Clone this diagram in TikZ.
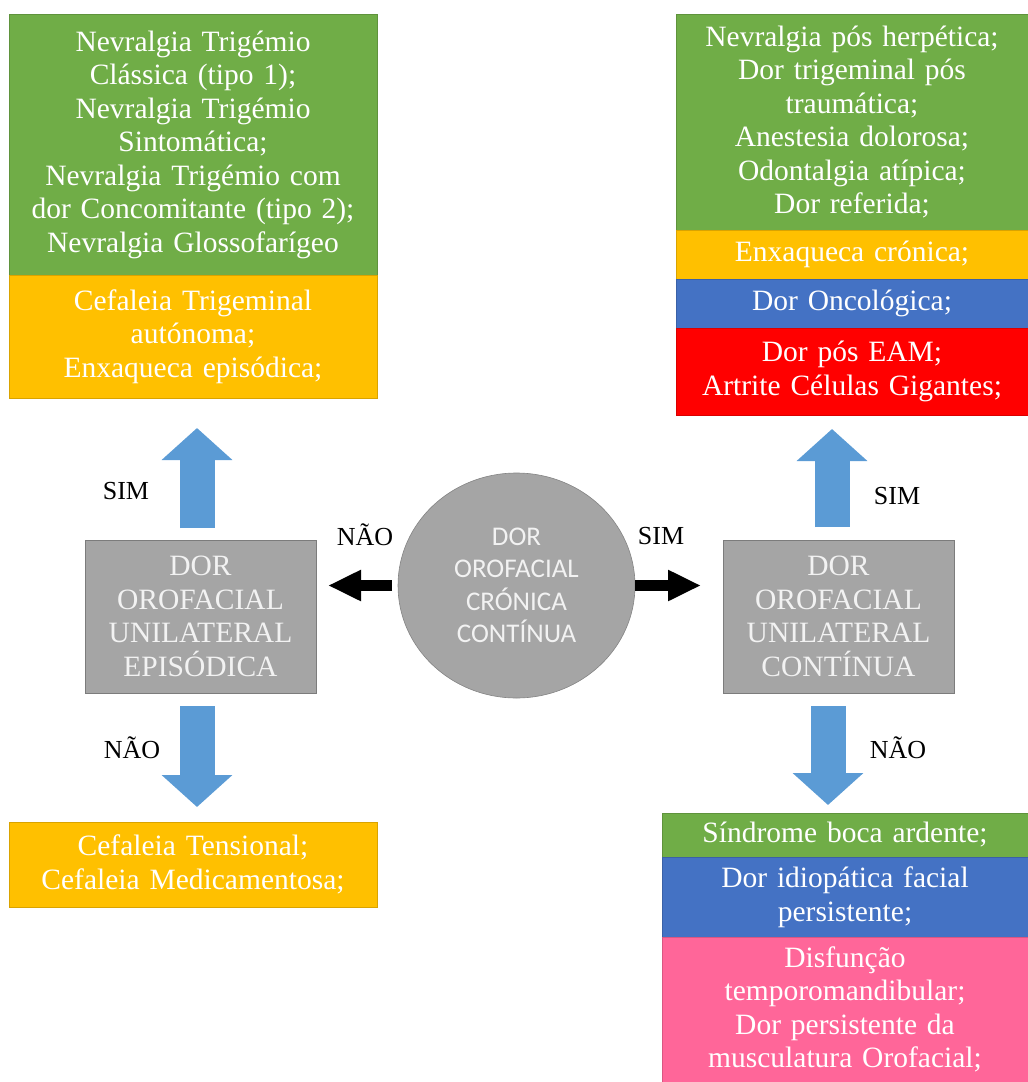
\documentclass[tikz,border=0pt]{standalone}
\usepackage{fontspec}
\setmainfont{Liberation Serif}
\newfontfamily\calibrifont{Carlito}
\usetikzlibrary{arrows.meta,positioning,shapes.geometric}

\begin{document}
\begin{tikzpicture}[x=1pt, y=-1pt, >=stealth]

  % Colors
  \definecolor{boxgreen}{HTML}{70AD47}
  \definecolor{boxyellow}{HTML}{FFC000}
  \definecolor{boxblue}{HTML}{4472C4}
  \definecolor{boxred}{HTML}{FF0000}
  \definecolor{boxpink}{HTML}{FF6699}
  \definecolor{boxgrey}{HTML}{A5A5A5}
  \definecolor{arrowblue}{HTML}{5B9BD5}
  \definecolor{greytext}{HTML}{F2F2F2}

  \tikzset{
    listbox/.style={rectangle, outer sep=0pt, inner sep=0pt, align=center,
      fill=#1, draw=#1!85!black, line width=0.6pt, text=white,
      font=\fontsize{29.5}{33.5}\selectfont},
    greybox/.style={rectangle, outer sep=0pt, inner sep=0pt, align=center,
      fill=boxgrey, draw=boxgrey!75!black, line width=0.8pt, text=greytext,
      minimum width=231pt, minimum height=153pt,
      font=\fontsize{29.5}{33.5}\selectfont},
    centrenode/.style={ellipse, outer sep=0pt, inner sep=0pt, align=center,
      fill=boxgrey, draw=boxgrey!80!black, line width=0.6pt, text=greytext,
      minimum width=237pt, minimum height=225pt,
      font=\calibrifont\fontsize{27}{32.5}\selectfont},
    answer/.style={inner sep=1pt, text=black, font=\fontsize{26}{28}\selectfont},
    blockarrow/.style={arrowblue, line width=35pt,
      -{Triangle[length=32pt, width=69pt]}},
    blackarrow/.style={black, line width=11pt,
      -{Triangle[length=33pt, width=29pt]}}
  }

  \useasboundingbox (0,0) rectangle (1028,1082);

  % CENTRE
  \node[centrenode] (circ) at (516.5,585.5) {DOR\\OROFACIAL\\CRÓNICA\\CONTÍNUA};

  % LEFT: episodic
  \node[greybox] (epi) at (200.5,616.5) {DOR\\OROFACIAL\\UNILATERAL\\EPISÓDICA};

  \node[listbox=boxgreen, anchor=north west, text width=360pt, minimum width=368pt,
    minimum height=261pt] (tlA) at (9,14)
    {Nevralgia Trigémio\\Clássica (tipo 1);\\Nevralgia Trigémio\\Sintomática;\\
     Nevralgia Trigémio com\\dor Concomitante (tipo 2);\\Nevralgia Glossofarígeo};
  \node[listbox=boxyellow, below=0pt of tlA, text width=360pt, minimum width=368pt,
    minimum height=123pt] (tlB)
    {Cefaleia Trigeminal\\autónoma;\\Enxaqueca episódica;};

  \node[listbox=boxyellow, anchor=north west, text width=360pt, minimum width=368pt,
    minimum height=85pt] (blA) at (9,822)
    {Cefaleia Tensional;\\Cefaleia Medicamentosa;};

  % RIGHT: continuous
  \node[greybox] (con) at (838.5,616.5) {DOR\\OROFACIAL\\UNILATERAL\\CONTÍNUA};

  \node[listbox=boxgreen, anchor=north west, text width=344pt, minimum width=352pt,
    minimum height=216pt] (trA) at (676,14)
    {Nevralgia pós herpética;\\Dor trigeminal pós\\traumática;\\Anestesia dolorosa;\\
     Odontalgia atípica;\\Dor referida;};
  \node[listbox=boxyellow, below=0pt of trA, text width=344pt, minimum width=352pt,
    minimum height=49pt] (trB) {Enxaqueca crónica;};
  \node[listbox=boxblue, below=0pt of trB, text width=344pt, minimum width=352pt,
    minimum height=49pt] (trC) {Dor Oncológica;};
  \node[listbox=boxred, below=0pt of trC, text width=344pt, minimum width=352pt,
    minimum height=87pt] (trD) {Dor pós EAM;\\Artrite Células Gigantes;};

  \node[listbox=boxgreen, anchor=north west, text width=358pt, minimum width=366pt,
    minimum height=44pt] (brA) at (662,813) {Síndrome boca ardente;};
  \node[listbox=boxblue, below=0pt of brA, text width=358pt, minimum width=366pt,
    minimum height=80pt] (brB) {Dor idiopática facial\\persistente;};
  \node[listbox=boxpink, below=0pt of brB, text width=358pt, minimum width=366pt,
    minimum height=145pt] (brC)
    {Disfunção\\temporomandibular;\\Dor persistente da\\musculatura Orofacial;};

  % Arrows from the centre
  \draw[blackarrow, shorten <=6pt, shorten >=12pt] (circ.west) -- (circ.west -| epi.east);
  \draw[blackarrow, shorten >=22pt] (circ.east) -- (circ.east -| con.west);

  % Block arrows
  \draw[blockarrow, shorten <=12pt, shorten >=30pt]
    ([xshift=-3.5pt]epi.north) -- ([xshift=-3.5pt]epi.north |- tlB.south);
  \draw[blockarrow, shorten <=13pt, shorten >=15pt]
    ([xshift=-3.5pt]epi.south) -- ([xshift=-3.5pt]epi.south |- blA.north);
  \draw[blockarrow, shorten <=13pt, shorten >=14pt]
    ([xshift=-6.5pt]con.north) -- ([xshift=-6.5pt]con.north |- trD.south);
  \draw[blockarrow, shorten <=13pt, shorten >=8pt]
    ([xshift=-10.5pt]con.south) -- ([xshift=-10.5pt]con.south |- brA.north);

  % Answers
  \node[answer] (simL) at (126,491) {SIM};
  \node[answer] (naoL) at (132,748) {NÃO};
  \node[answer] (naoC) at (365,535) {NÃO};
  \node[answer] (simC) at (661,536) {SIM};
  \node[answer] (simR) at (897,496) {SIM};
  \node[answer] (naoR) at (898,748) {NÃO};

\end{tikzpicture}
\end{document}
